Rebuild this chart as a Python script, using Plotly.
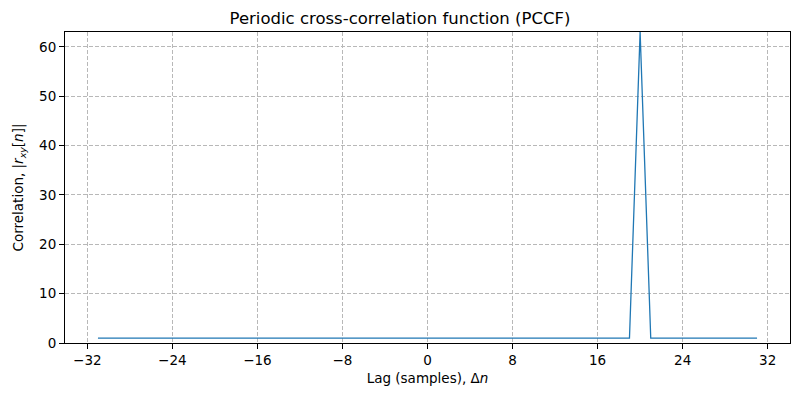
import plotly.graph_objects as go

lags = list(range(-31, 32))
peak_lag = 20
peak_value = 63
base_value = 1
corr = [peak_value if l == peak_lag else base_value for l in lags]

xticks = [-32, -24, -16, -8, 0, 8, 16, 24, 32]
yticks = [0, 10, 20, 30, 40, 50, 60]

fig = go.Figure()
fig.add_trace(go.Scatter(x=lags, y=corr, mode="lines",
                         line=dict(color="#1f77b4", width=1.3)))

font = dict(family="DejaVu Sans", size=13.5, color="black")
axis_common = dict(showline=True, linecolor="black", linewidth=1, mirror=True,
                   ticks="outside", ticklen=5, tickcolor="black", tickwidth=1,
                   showgrid=True, gridcolor="#b8b8b8", griddash="4px,2px", gridwidth=1,
                   zeroline=False, tickfont=font)

fig.update_layout(
    width=800, height=400,
    margin=dict(l=65, r=10, t=32, b=57),
    paper_bgcolor="white", plot_bgcolor="white",
    showlegend=False,
    title=dict(text="Periodic cross-correlation function (PCCF)", x=0.5, xanchor="center",
               y=1 - 18/400, yanchor="middle",
               font=dict(family="DejaVu Sans", size=16.5, color="black")),
    xaxis=dict(range=[-34.1, 34.1], tickvals=xticks, ticktext=[str(t).replace("-", "\u2212") for t in xticks],
               title=dict(text="Lag (samples), Δ<i>n</i>", font=font, standoff=6), **axis_common),
    yaxis=dict(range=[0, 63], tickvals=yticks,
               title=dict(text="Correlation, |<i>r</i><sub><i>xy</i></sub>[<i>n</i>]|", font=font, standoff=12),
               **axis_common),
)

fig.write_html("out.html")
